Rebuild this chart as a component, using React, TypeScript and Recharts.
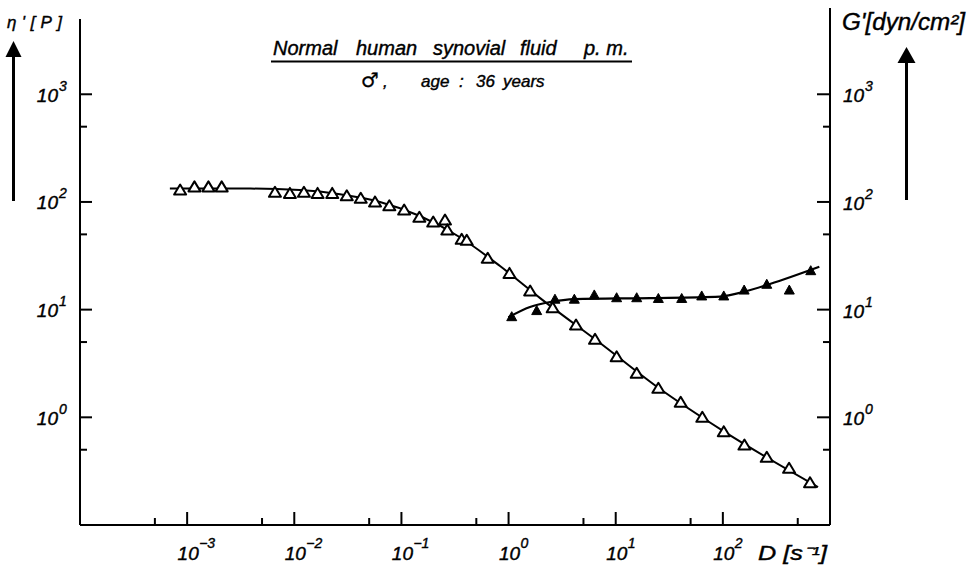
import React from "react";
import { ComposedChart, XAxis, YAxis, Line, Scatter } from "recharts";

// eta' (open triangles) measured points
const etaX = [8.6e-4, 1.17e-3, 1.58e-3, 2.1e-3, 6.6e-3, 9.1e-3, 0.0123, 0.0165, 0.0226, 0.0309, 0.0417, 0.0567, 0.0771, 0.106, 0.147, 0.198, 0.255, 0.268, 0.365, 0.407, 0.639, 1.02, 1.59, 2.58, 4.26, 6.41, 10.2, 15.7, 25.0, 40.4, 64.3, 102, 159, 257, 415, 651];
const etaY = [129, 138, 138, 138, 123, 120, 123, 120, 120, 114, 108, 100, 92, 84, 72, 65, 68, 55, 45, 44, 30, 21.7, 14.9, 10.4, 7.2, 5.3, 3.65, 2.56, 1.86, 1.38, 1.0, 0.735, 0.553, 0.425, 0.336, 0.247];

// G' (filled triangles) measured points
const gX = [1.07, 1.83, 2.71, 4.11, 6.31, 10.2, 15.7, 25.0, 41.3, 63.5, 102, 158, 257, 417, 661];
const gY = [8.6, 9.8, 12.5, 12.5, 13.7, 12.9, 12.9, 12.7, 12.7, 13.4, 13.4, 15.2, 17.2, 15.2, 23.0];

// drawn fit curves
const etaFitX = [6.9e-4, 3.9e-3, 0.0113, 0.0267, 0.0631, 0.149, 0.352, 0.832, 1.97, 7.14, 25, 102, 773];
const etaFitY = [133, 133, 129, 118, 100, 74, 47, 25.4, 12.8, 4.9, 1.88, 0.74, 0.225];
const gFitX = [0.995, 1.585, 2.44, 4.17, 20.9, 94.1, 161, 275, 795];
const gFitY = [8.48, 10.57, 11.77, 12.54, 12.81, 13.23, 14.72, 17.29, 25.0];

// axis ticks
const xMajor = [1e-3, 1e-2, 1e-1, 1, 10, 100];
const xMajorLabels = ["\u22123", "\u22122", "\u22121", "0", "1", "2"];
const xMinor = [5e-4, 5e-3, 5e-2, 0.5, 5, 50, 500];
const yMajor = [1, 10, 100, 1000];
const yMajorLabels = ["0", "1", "2", "3"];
const yMinor = [0.5, 5, 50, 500];

const zip = (xs: number[], ys: number[]) => xs.map((x, i) => ({ x, y: ys[i] }));
const etaPts = zip(etaX, etaY);
const gPts = zip(gX, gY);
const etaFit = zip(etaFitX, etaFitY);
const gFit = zip(gFitX, gFitY);

const xTicks = [...xMajor, ...xMinor].sort((a, b) => a - b);
const yTicks = [...yMajor, ...yMinor].sort((a, b) => a - b);

const FONT = '"Liberation Sans", Arial, sans-serif';
const txt = { fontFamily: FONT, fontStyle: "italic" as const, fill: "#000", stroke: "#000", strokeWidth: 0.4 };

const labelFor = (v: number, majors: number[], labels: string[]) => {
  const i = majors.findIndex((m) => Math.abs(m - v) < m * 1e-6);
  return i >= 0 ? labels[i] : null;
};

const XTick = (props: any) => {
  const { x, y, payload } = props;
  const lab = labelFor(payload.value, xMajor, xMajorLabels);
  return (
    <g>
      <line x1={x} y1={y} x2={x} y2={y - (lab !== null ? 13 : 7)} stroke="#000" strokeWidth={2} />
      {lab !== null && (
        <>
          <text x={x + 1} y={y + 35} textAnchor="middle" fontSize={19} {...txt}>10</text>
          <text x={x + 12} y={y + 23} fontSize={14} {...txt}>{lab}</text>
        </>
      )}
    </g>
  );
};

const YTickLeft = (props: any) => {
  const { x, y, payload } = props;
  const lab = labelFor(payload.value, yMajor, yMajorLabels);
  return (
    <g>
      <line x1={x} y1={y} x2={x + (lab !== null ? 12 : 7)} y2={y} stroke="#000" strokeWidth={2} />
      {lab !== null && (
        <>
          <text x={x - 22} y={y + 7.5} textAnchor="end" fontSize={19} {...txt}>10</text>
          <text x={x - 21} y={y - 3.5} fontSize={14} {...txt}>{lab}</text>
        </>
      )}
    </g>
  );
};

const YTickRight = (props: any) => {
  const { x, y, payload } = props;
  const lab = labelFor(payload.value, yMajor, yMajorLabels);
  return (
    <g>
      <line x1={x} y1={y} x2={x - (lab !== null ? 13 : 7)} y2={y} stroke="#000" strokeWidth={2} />
      {lab !== null && (
        <>
          <text x={x + 13} y={y + 8} fontSize={19} {...txt}>10</text>
          <text x={x + 35} y={y - 3} fontSize={14} {...txt}>{lab}</text>
        </>
      )}
    </g>
  );
};

const OpenTri = (props: any) => {
  const { cx, cy } = props;
  if (cx == null || cy == null) return null;
  return (
    <polygon
      points={`${cx},${cy - 5.5} ${cx - 6},${cy + 4.5} ${cx + 6},${cy + 4.5}`}
      fill="#fff"
      stroke="#000"
      strokeWidth={2}
      strokeLinejoin="round"
    />
  );
};

const FilledTri = (props: any) => {
  const { cx, cy } = props;
  if (cx == null || cy == null) return null;
  return (
    <polygon
      points={`${cx},${cy - 5} ${cx - 5},${cy + 4} ${cx + 5},${cy + 4}`}
      fill="#000"
      stroke="#000"
      strokeWidth={1}
      strokeLinejoin="round"
    />
  );
};

export default function App() {
  return (
    <div style={{ position: "absolute", left: 0, top: 0, width: 972, height: 567, background: "#fff" }}>
      <ComposedChart width={972} height={567} margin={{ top: 19, right: 0, bottom: 0, left: 0 }}>
        <XAxis
          dataKey="x"
          type="number"
          scale="log"
          domain={[1e-4, 1e3]}
          allowDataOverflow
          ticks={xTicks}
          interval={0}
          tickSize={0}
          tickMargin={0}
          tickLine={false}
          tick={<XTick />}
          height={42}
          axisLine={{ stroke: "#000", strokeWidth: 2 }}
        />
        <YAxis
          yAxisId="left"
          dataKey="y"
          type="number"
          scale="log"
          domain={[0.1, 5000]}
          allowDataOverflow
          ticks={yTicks}
          interval={0}
          tickSize={0}
          tickMargin={0}
          tickLine={false}
          tick={<YTickLeft />}
          width={80}
          axisLine={{ stroke: "#000", strokeWidth: 2 }}
        />
        <YAxis
          yAxisId="right"
          orientation="right"
          dataKey="y"
          type="number"
          scale="log"
          domain={[0.1, 5000]}
          allowDataOverflow
          ticks={yTicks}
          interval={0}
          tickSize={0}
          tickMargin={0}
          tickLine={false}
          tick={<YTickRight />}
          width={142}
          axisLine={{ stroke: "#000", strokeWidth: 2 }}
        />
        <Line data={etaFit} dataKey="y" yAxisId="left" type="monotone" stroke="#000" strokeWidth={2} dot={false} activeDot={false} isAnimationActive={false} />
        <Line data={gFit} dataKey="y" yAxisId="right" type="monotone" stroke="#000" strokeWidth={2.2} dot={false} activeDot={false} isAnimationActive={false} />
        <Scatter data={etaPts} dataKey="y" yAxisId="left" shape={<OpenTri />} isAnimationActive={false} />
        <Scatter data={gPts} dataKey="y" yAxisId="right" shape={<FilledTri />} isAnimationActive={false} />
      </ComposedChart>
      <svg width={972} height={567} style={{ position: "absolute", left: 0, top: 0, pointerEvents: "none" }}>
        {/* right axis extension */}
        <line x1={830} y1={8} x2={830} y2={20} stroke="#000" strokeWidth={2} />
        {/* title */}
        <text x={273} y={55} fontSize={20} {...txt}>Normal</text>
        <text x={356} y={55} fontSize={20} {...txt}>human</text>
        <text x={433} y={55} fontSize={20} {...txt}>synovial</text>
        <text x={520} y={55} fontSize={20} {...txt}>fluid</text>
        <text x={584} y={55} fontSize={20} {...txt}>p. m.</text>
        <line x1={271} y1={61.5} x2={632} y2={61.5} stroke="#000" strokeWidth={2.2} />
        <text x={361} y={87} fontSize={20} fontFamily='"DejaVu Sans", sans-serif' fill="#000" stroke="#000" strokeWidth={0.3}>♂</text>
        <text x={383} y={87} fontSize={17} {...txt}>,</text>
        <text x={421} y={87} fontSize={17} {...txt}>age</text>
        <text x={459} y={87} fontSize={17} {...txt}>:</text>
        <text x={476} y={87} fontSize={17} {...txt}>36</text>
        <text x={503} y={87} fontSize={17} {...txt}>years</text>
        {/* left axis name and arrow */}
        <text x={7} y={28} fontSize={17} {...txt} textLength={55}>η'[P]</text>
        <line x1={13.5} y1={54} x2={13.5} y2={201} stroke="#000" strokeWidth={3} />
        <polygon points="13.5,41 5.5,57 21.5,57" fill="#000" />
        {/* right axis name and arrow */}
        <text x={842} y={30} fontSize={23} {...txt} textLength={123} lengthAdjust="spacingAndGlyphs">G'[dyn/cm²]</text>
        <line x1={906.5} y1={61} x2={906.5} y2={200} stroke="#000" strokeWidth={3} />
        <polygon points="906.5,47 897.5,63 915.5,63" fill="#000" />
        {/* x axis name */}
        <text x={758} y={560} fontSize={20} {...txt} textLength={69} lengthAdjust="spacingAndGlyphs">D [s⁻¹]</text>
      </svg>
    </div>
  );
}
